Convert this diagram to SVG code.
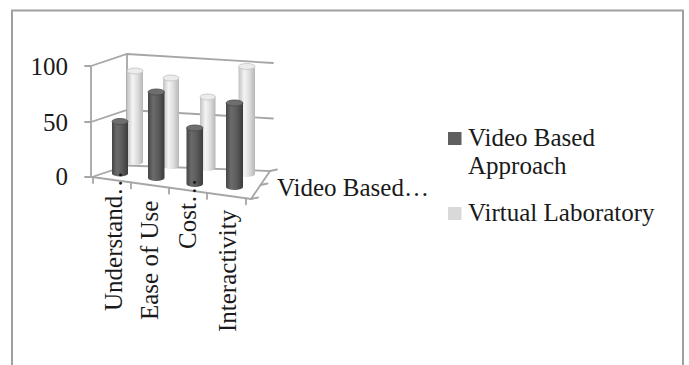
<svg xmlns="http://www.w3.org/2000/svg" width="689" height="365" viewBox="0 0 689 365">
<defs>
<linearGradient id="gd" x1="0" y1="0" x2="1" y2="0">
<stop offset="0" stop-color="#454545"/>
<stop offset="0.3" stop-color="#6b6b6b"/>
<stop offset="0.6" stop-color="#5d5d5d"/>
<stop offset="1" stop-color="#3c3c3c"/>
</linearGradient>
<linearGradient id="gl" x1="0" y1="0" x2="1" y2="0">
<stop offset="0" stop-color="#c2c2c2"/>
<stop offset="0.35" stop-color="#f4f4f4"/>
<stop offset="0.65" stop-color="#dedede"/>
<stop offset="1" stop-color="#b6b6b6"/>
</linearGradient>
</defs>
<style>
.frame{fill:none;stroke:#a0a0a0;stroke-width:2}
.grid{fill:none;stroke:#a6a6a6;stroke-width:1.8;stroke-linecap:round}
.dk{fill:url(#gd)}
.dkt{fill:#6e6e6e;stroke:#4a4a4a;stroke-width:0.8}
.lt{fill:url(#gl)}
.ltt{fill:#ececec;stroke:#c2c2c2;stroke-width:0.8}
.t{font-family:"Liberation Serif","Times New Roman",serif;font-size:25px;fill:#1a1a1a}
</style>
<rect width="689" height="365" fill="#ffffff"/>
<path class="frame" d="M12,366 V10.5 H683 V366"/>
<g id="axes">
<path class="grid" d="M85,66 H91 M85,122 H91 M85,177 H91"/>
<path class="grid" d="M91,66 V177 M91,66 L127,54 L273,63 M91,122 L127,110 L273,118.5 M127,54 V165.5"/>
<path class="grid" d="M92,177 L127,165.5 L270,171 L251,199 Z"/>
<path class="grid" d="M93,177 v6 M131,182.4 v6 M169,187.7 v6 M207,192.9 v6 M246,198.3 v6"/>
<path class="grid" d="M270,171 l7,-1.5 M260.5,185 l7,-1.5 M251,199 l7,-1.5"/>
</g>
<g id="series-virtual-laboratory">
<path class="lt" d="M127,71 V162 A8,3 0 0 0 143,162 V71 Z"/><ellipse class="ltt" cx="135" cy="71" rx="8" ry="3"/>
<path class="lt" d="M163,78 V166 A8,3 0 0 0 179,166 V78 Z"/><ellipse class="ltt" cx="171" cy="78" rx="8" ry="3"/>
<path class="lt" d="M200,97 V168 A7.75,3 0 0 0 215.5,168 V97 Z"/><ellipse class="ltt" cx="207.75" cy="97" rx="7.75" ry="3"/>
<path class="lt" d="M238.5,66.5 V174 A8.25,3 0 0 0 255,174 V66.5 Z"/><ellipse class="ltt" cx="246.75" cy="66.5" rx="8.25" ry="3"/>
</g>
<g id="series-video-based">
<path class="dk" d="M112,121.5 V173.5 A8,3 0 0 0 128,173.5 V121.5 Z"/><ellipse class="dkt" cx="120" cy="121.5" rx="8" ry="3"/>
<path class="dk" d="M148,92 V178 A8.25,3 0 0 0 164.5,178 V92 Z"/><ellipse class="dkt" cx="156.25" cy="92" rx="8.25" ry="3"/>
<path class="dk" d="M186.5,128 V184 A8.25,3 0 0 0 203,184 V128 Z"/><ellipse class="dkt" cx="194.75" cy="128" rx="8.25" ry="3"/>
<path class="dk" d="M226,103 V187 A8.5,3 0 0 0 243,187 V103 Z"/><ellipse class="dkt" cx="234.5" cy="103" rx="8.5" ry="3"/>
</g>
<g id="value-labels">
<text class="t" x="68" y="75" text-anchor="end">100</text>
<text class="t" x="68" y="131" text-anchor="end">50</text>
<text class="t" x="68" y="185" text-anchor="end">0</text>
</g>
<g id="category-labels">
<text class="t" transform="translate(122,311) rotate(-90)">Understand…</text>
<text class="t" transform="translate(157.5,320) rotate(-90)">Ease of Use</text>
<text class="t" transform="translate(196,249) rotate(-90)">Cost…</text>
<text class="t" transform="translate(236,332) rotate(-90)">Interactivity</text>
</g>
<g id="depth-label">
<text class="t" x="277" y="196">Video Based…</text>
</g>
<g id="legend">
<rect x="448" y="132" width="13.5" height="13" fill="#5f5f5f"/>
<text class="t" x="468" y="146">Video Based</text>
<text class="t" x="468" y="173.5">Approach</text>
<rect x="448" y="207" width="13.5" height="13" fill="#d9d9d9"/>
<text class="t" x="468" y="221">Virtual Laboratory</text>
</g>
</svg>
